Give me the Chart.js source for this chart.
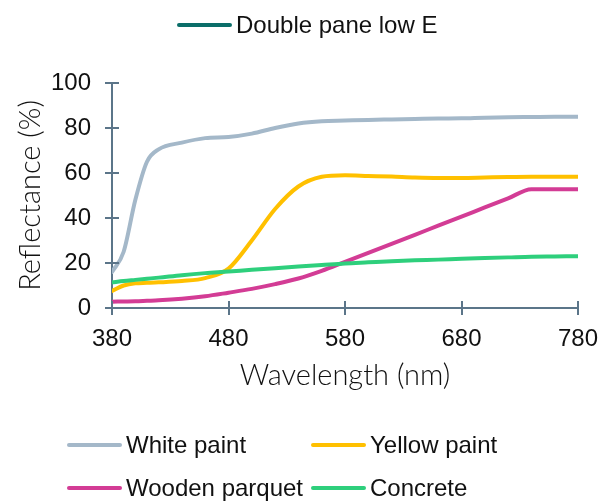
<!DOCTYPE html>
<html>
<head>
<meta charset="utf-8">
<script src="https://cdn.jsdelivr.net/npm/chart.js@4/dist/chart.umd.min.js"></script>
<style>
  html, body { margin: 0; padding: 0; background: #fff; }
  #wrap { position: relative; width: 601px; height: 501px; }
  #c { position: absolute; left: 0; top: 0; }
  .leg { position: absolute; font-family: "Liberation Sans", Arial, sans-serif; font-size: 24px; color: #111; white-space: nowrap; display: flex; align-items: center; height: 28px; }
  .leg .sw { display: inline-block; width: 55px; height: 4px; border-radius: 2px; margin-right: 4px; }
</style>
</head>
<body>
<div id="wrap">
  <canvas id="c" width="601" height="501"></canvas>
</div>
<script>
// ---- data ----
const wavelengths = [380, 390, 400, 410, 420, 440, 460, 480, 500, 520, 540, 560, 580, 600, 620, 640, 660, 680, 700, 720, 740, 760, 780];
const whitePaint  = [16, 25, 48, 65, 70.5, 73.5, 75.5, 76, 77.5, 80, 82, 83, 83.3, 83.6, 83.8, 84, 84.2, 84.3, 84.6, 84.8, 84.9, 85, 85];
const yellowPaint = [7.6, 10, 11, 11.2, 11.4, 12, 13.3, 17.5, 30, 44, 54, 58.3, 59, 58.7, 58.4, 58, 57.8, 57.8, 58, 58.2, 58.3, 58.3, 58.3];
const woodenParquet = [2.8, 2.9, 3, 3.2, 3.4, 4.1, 5.2, 6.8, 8.5, 10.6, 13.1, 16.5, 20.5, 24.5, 28.5, 32.5, 36.6, 40.6, 44.7, 48.7, 52.8, 52.8, 52.8];
const concrete    = [11.4, 12, 12.5, 13, 13.5, 14.6, 15.5, 16.2, 17, 17.7, 18.4, 19.1, 19.8, 20.3, 20.8, 21.2, 21.5, 21.9, 22.2, 22.5, 22.8, 22.9, 23];
const doublePaneLowE = []; // listed in legend, no visible data
const xTicks = [380, 480, 580, 680, 780];
const yTicks = [0, 20, 40, 60, 80, 100];

const seriesNames  = ["Double pane low E", "White paint", "Yellow paint", "Wooden parquet", "Concrete"];
const seriesColors = ["#0b6e69", "#a4b8c9", "#ffc000", "#d33c95", "#2ecf7c"];
const seriesValues = [doublePaneLowE, whitePaint, yellowPaint, woodenParquet, concrete];

const AXIS = "#5b7589";

const order = [4, 3, 2, 1, 0];
const datasets = seriesNames.map((n, i) => ({
  label: n,
  data: seriesValues[i].map((v, j) => ({ x: wavelengths[j], y: v })),
  borderColor: seriesColors[i],
  backgroundColor: seriesColors[i],
  borderWidth: 4,
  pointRadius: 0,
  fill: false,
  cubicInterpolationMode: "monotone",
  tension: 0.4,
  borderCapStyle: "round",
  order: order[i]
}));

const innerTicks = {
  id: "innerTicks",
  afterDatasetsDraw(chart) {
    const ctx = chart.ctx;
    const xs = chart.scales.x, ys = chart.scales.y;
    ctx.save();
    ctx.strokeStyle = AXIS;
    ctx.lineWidth = 2;
    ctx.beginPath();
    xTicks.forEach(t => {
      const px = Math.round(xs.getPixelForValue(t));
      ctx.moveTo(px, ys.bottom);
      ctx.lineTo(px, ys.bottom - 7);
    });
    yTicks.forEach(t => {
      const py = Math.round(ys.getPixelForValue(t));
      ctx.moveTo(xs.left, py);
      ctx.lineTo(xs.left + 7, py);
    });
    ctx.stroke();
    ctx.restore();
  }
};

const tickFont = { family: "'Liberation Sans', Arial, sans-serif", size: 24 };
const titleFont = { family: "Lato, 'Open Sans', sans-serif", size: 29, weight: "300" };

new Chart(document.getElementById("c"), {
  type: "line",
  data: { datasets },
  options: {
    responsive: false,
    animation: false,
    layout: { padding: { left: 0, right: 23, top: 83, bottom: 0 } },
    plugins: { legend: { display: false }, tooltip: { enabled: false } },
    scales: {
      x: {
        type: "linear",
        min: 380, max: 780,
        afterBuildTicks: s => { s.ticks = xTicks.map(v => ({ value: v })); },
        afterFit: s => { s.height = 193; s.paddingRight = 0; s.paddingLeft = 0; },
        ticks: { font: tickFont, color: "#111", padding: 10, maxRotation: 0 },
        grid: { drawOnChartArea: false, tickLength: 7, color: AXIS, lineWidth: 2 },
        border: { color: AXIS, width: 2 },
        title: { display: true, text: "Wavelength (nm)", font: titleFont, color: "#111", padding: { top: 0, bottom: 108 } }
      },
      y: {
        min: 0, max: 100,
        afterBuildTicks: s => { s.ticks = yTicks.map(v => ({ value: v })); },
        afterFit: s => { s.width = 112; s.paddingTop = 0; s.paddingBottom = 0; },
        ticks: { font: tickFont, color: "#111", padding: 14 },
        grid: { drawOnChartArea: false, tickLength: 7, color: AXIS, lineWidth: 2 },
        border: { color: AXIS, width: 2 },
        title: { display: true, text: "Reflectance (%)", font: titleFont, color: "#111", padding: { top: 13, bottom: 0 } }
      }
    }
  },
  plugins: [innerTicks]
});

// HTML legends
function legItem(name, color, left, top) {
  const d = document.createElement("div");
  d.className = "leg";
  d.style.left = left + "px";
  d.style.top = top + "px";
  d.innerHTML = '<span class="sw" style="background:' + color + '"></span><span>' + name + '</span>';
  return d;
}
const wrap = document.getElementById("wrap");
wrap.appendChild(legItem(seriesNames[0], seriesColors[0], 177, 11));
wrap.appendChild(legItem(seriesNames[1], seriesColors[1], 67, 431));
wrap.appendChild(legItem(seriesNames[2], seriesColors[2], 311, 431));
wrap.appendChild(legItem(seriesNames[3], seriesColors[3], 67, 474));
wrap.appendChild(legItem(seriesNames[4], seriesColors[4], 311, 474));
</script>
</body>
</html>
